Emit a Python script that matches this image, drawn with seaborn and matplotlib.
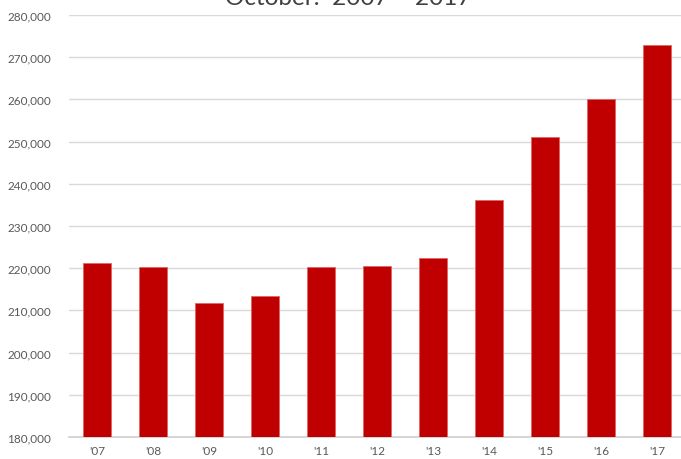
import pandas as pd
import matplotlib.pyplot as plt
import seaborn as sns
from matplotlib.ticker import FuncFormatter

# dados
anos = ["'07", "'08", "'09", "'10", "'11", "'12", "'13", "'14", "'15", "'16", "'17"]
valores = [221300, 220400, 211700, 213400, 220300, 220600, 222300, 236200, 251100, 260100, 272900]
titulo = "October:  2007 \u2013 2017"

sns.set_theme(style="white")
plt.rcParams['font.family'] = ['Lato', 'DejaVu Sans']

df = pd.DataFrame({'ano': anos, 'valor': valores})

fig = plt.figure(figsize=(6.81, 4.60), dpi=100)
ax = fig.add_axes([69 / 681, 22 / 460, 616 / 681, 422 / 460])

sns.barplot(data=df, x='ano', y='valor', color='#C00000', width=0.5,
            edgecolor='#e06666', linewidth=0.6, saturation=1, ax=ax, zorder=3)

ax.set_ylim(180000, 280000)
ax.set_xlim(-0.5, len(anos) - 0.5)
ax.set_yticks(range(180000, 280001, 10000))
ax.yaxis.set_major_formatter(FuncFormatter(lambda v, p: f"{int(v):,}"))
ax.grid(axis='y', color='#d9d9d9', linewidth=1, zorder=0)
ax.set_axisbelow(True)
for lado in ['top', 'right', 'left']:
    ax.spines[lado].set_visible(False)
ax.spines['bottom'].set_color('#d0d0d0')
ax.tick_params(axis='both', length=0, labelsize=8.5, colors='#595959')
ax.tick_params(axis='y', pad=13)
ax.tick_params(axis='x', pad=6)
ax.set_xlabel('')
ax.set_ylabel('')

fig.text(348 / 681, 1 - 5 / 460, titulo, ha='center', va='baseline',
         fontsize=17.5, color='#404040')

fig.savefig('out.png', dpi=100)
